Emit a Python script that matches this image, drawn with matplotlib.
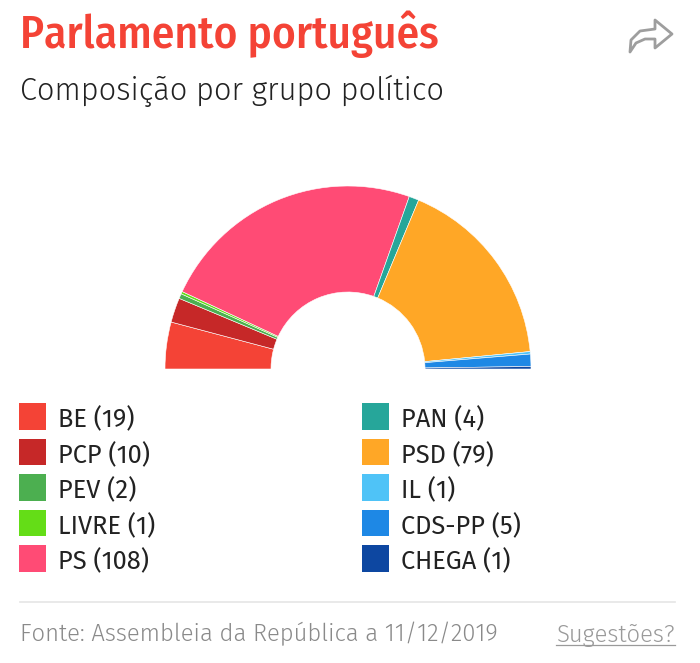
import matplotlib
matplotlib.use("Agg")
import matplotlib.pyplot as plt
from matplotlib.patches import Rectangle, Polygon
import numpy as np

parties = ["BE", "PCP", "PEV", "LIVRE", "PS", "PAN", "PSD", "IL", "CDS-PP", "CHEGA"]
seats = [19, 10, 2, 1, 108, 4, 79, 1, 5, 1]
colors = ["#f44336", "#c62828", "#4caf50", "#64dd17", "#ff4b75",
          "#26a69a", "#ffa726", "#4fc3f7", "#1e88e5", "#0d47a1"]

title = "Parlamento português"
subtitle = "Composição por grupo político"
source = "Fonte: Assembleia da República a 11/12/2019"
link = "Sugestões?"

W, H = 700, 663
fig = plt.figure(figsize=(W / 100, H / 100), dpi=100)
fig.patch.set_facecolor("white")
TFONT = "Fira Sans Condensed"
FONT = "Fira Sans"

bg = fig.add_axes([0, 0, 1, 1])
bg.set_xlim(0, W)
bg.set_ylim(H, 0)
bg.axis("off")

bg.text(20, 47.5, title, color="#f44336", fontsize=32.5, family=TFONT, weight=500,
        va="baseline", ha="left")
bg.text(20, 100, subtitle, color="#222222", fontsize=22.2, family=FONT, weight=300,
        va="baseline", ha="left")

# share icon (decorative)
icon = np.array([[630, 52], [631, 40], [640, 31], [655, 29], [655, 20], [672, 34],
                 [655, 48], [655, 39], [645, 39], [636, 43]])
bg.add_patch(Polygon(icon, closed=True, facecolor="none", edgecolor="#9e9e9e", lw=2,
                     joinstyle="round"))

# semicircle parliament chart
cx, cy, R = 348, 369, 183
pie_ax = fig.add_axes([(cx - R) / W, (H - cy - R) / H, 2 * R / W, 2 * R / H])
total = sum(seats)
vals = seats + [total]
cols = colors + ["none"]
pie_ax.pie(vals, colors=cols, startangle=180, counterclock=False,
           wedgeprops=dict(width=1 - 77 / 183, edgecolor="white", linewidth=0.4))
pie_ax.set_xlim(-1, 1)
pie_ax.set_ylim(-1, 1)
pie_ax.set_aspect("equal")
pie_ax.axis("off")
pie_ax.patches[-1].set_edgecolor("none")

# legend
row_y0, row_dy = 416.7, 35.5
half = 5
for i, (p, s, c) in enumerate(zip(parties, seats, colors)):
    col = i // half
    row = i % half
    x_sq = 19 if col == 0 else 362
    y = row_y0 + row * row_dy
    bg.add_patch(Rectangle((x_sq, y - 13.3), 26.5, 26.5, facecolor=c, edgecolor="none"))
    bg.text(x_sq + 39, y + 10.6, f"{p} ({s})", fontsize=18.3, family=FONT, color="#222222",
            va="baseline", ha="left")

# footer
bg.plot([20, 675], [602, 602], color="#e5e5e5", lw=1.2)
bg.text(20, 641.7, source, fontsize=17.2, family=FONT, weight=300, color="#8a8a8a",
        va="baseline", ha="left")
t = bg.text(675, 641.7, link, fontsize=17.2, family=FONT, weight=300, color="#9a9a9a",
            va="baseline", ha="right")
fig.canvas.draw()
bb = t.get_window_extent()
bg.plot([bb.x0, bb.x1], [645, 645], color="#9a9a9a", lw=0.9)

fig.savefig("out.png", dpi=100, facecolor="white")
